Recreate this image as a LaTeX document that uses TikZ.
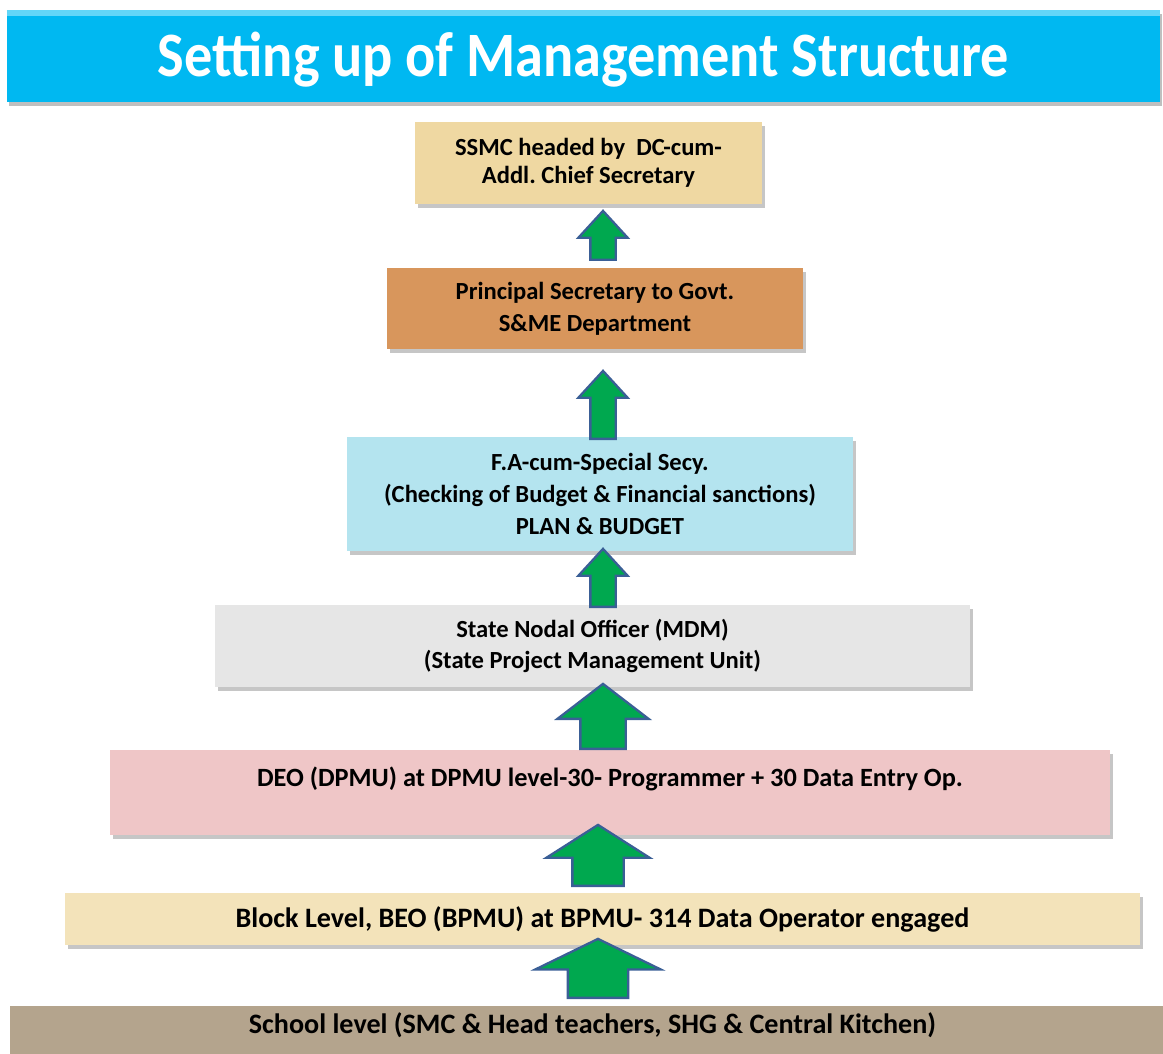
\documentclass[tikz,border=0pt]{standalone}
\usepackage{fontspec}
\setmainfont{Carlito}
\newfontfamily\titlefont{Carlito}[FakeStretch=0.89]
\usetikzlibrary{shapes.arrows,shadows}
\frenchspacing

\definecolor{titleblue}{HTML}{00B8F1}
\definecolor{titletop}{HTML}{62D6F8}
\definecolor{ssmc}{HTML}{EFD8A2}
\definecolor{wood}{HTML}{D8965C}
\definecolor{water}{HTML}{B4E4EF}
\definecolor{marble}{HTML}{E6E6E6}
\definecolor{rose}{HTML}{EFC6C7}
\definecolor{sand}{HTML}{F3E3BA}
\definecolor{granite}{HTML}{B4A48D}
\definecolor{arrgreen}{HTML}{00A84F}
\definecolor{arrblue}{HTML}{3A5F96}

\begin{document}
\begin{tikzpicture}[x=0.02cm,y=-0.02cm,
  level/.style={inner sep=2pt, align=center,
    font=\bfseries\fontsize{14}{18}\selectfont,
    drop shadow={shadow xshift=1.5pt, shadow yshift=-2pt, opacity=.45}},
  uparrow/.style={single arrow, shape border rotate=90, anchor=tail,
    fill=arrgreen, draw=arrblue, line width=1.3pt, inner ysep=0pt}]
\useasboundingbox (0,0) rectangle (1163,1054);

% title bar
\node[fill=titleblue, minimum width=23.06cm, minimum height=1.84cm, text=white,
  font=\titlefont\bfseries\fontsize{36}{40}\selectfont, text height=1.05cm,
  drop shadow={shadow xshift=1pt, shadow yshift=-2.5pt, opacity=.5}]
  (title) at (583.5,56) {Setting up of Management Structure};
\draw[titletop, line width=3.5pt] ([yshift=-1.75pt]title.north west) -- ([yshift=-1.75pt]title.north east);

% levels, top to bottom
\node[level, fill=ssmc, minimum width=6.94cm, minimum height=1.64cm,
  font=\bfseries\fontsize{14}{16}\selectfont]
  (b1) at (588.5,163) {SSMC headed by\ \ DC-cum-\\Addl. Chief Secretary};
\node[level, fill=wood, minimum width=8.32cm, minimum height=1.62cm]
  (b2) at (595,308.5) {Principal Secretary to Govt.\\S\&ME Department};
\node[level, fill=water, minimum width=10.12cm, minimum height=2.28cm]
  (b3) at (600,494) {F.A-cum-Special Secy.\\(Checking of Budget \& Financial sanctions)\\PLAN \& BUDGET};
\node[level, fill=marble, minimum width=15.1cm, minimum height=1.64cm]
  (b4) at (592.5,646) {State Nodal Officer (MDM)\\(State Project Management Unit)};
\node[level, fill=rose, minimum width=20cm, minimum height=1.7cm, text depth=0.62cm,
  font=\bfseries\fontsize{15}{18}\selectfont]
  (b5) at (610,792.5) {DEO (DPMU) at DPMU level-30- Programmer + 30 Data Entry Op.};
\node[level, fill=sand, minimum width=21.5cm, minimum height=1.04cm,
  font=\bfseries\fontsize{16}{18}\selectfont]
  (b6) at (602.5,919) {Block Level, BEO (BPMU) at BPMU- 314 Data Operator engaged};
\node[level, fill=granite, minimum width=23.3cm, minimum height=1.08cm, text depth=0.4cm,
  font=\bfseries\fontsize{16}{18}\selectfont]
  (b7) at (592.5,1033) {School level (SMC \& Head teachers, SHG \& Central Kitchen)};

% arrows between the levels
\node[uparrow, inner xsep=0.23cm, minimum height=0.98cm,
  single arrow head extend=0.24cm, single arrow tip angle=85] (a1) at (603,261) {};
\node[uparrow, inner xsep=0.23cm, minimum height=1.36cm,
  single arrow head extend=0.24cm, single arrow tip angle=85] (a2) at (603,440) {};
\node[uparrow, inner xsep=0.23cm, minimum height=1.16cm,
  single arrow head extend=0.24cm, single arrow tip angle=85] (a3) at (603,608) {};
\node[uparrow, inner xsep=0.43cm, minimum height=1.3cm,
  single arrow head extend=0.46cm, single arrow tip angle=105] (a4) at (603,750) {};
\node[uparrow, inner xsep=0.49cm, minimum height=1.22cm,
  single arrow head extend=0.52cm, single arrow tip angle=115] (a5) at (598,887) {};
\node[uparrow, inner xsep=0.58cm, minimum height=1.18cm,
  single arrow head extend=0.65cm, single arrow tip angle=128] (a6) at (598,999) {};
\end{tikzpicture}
\end{document}
